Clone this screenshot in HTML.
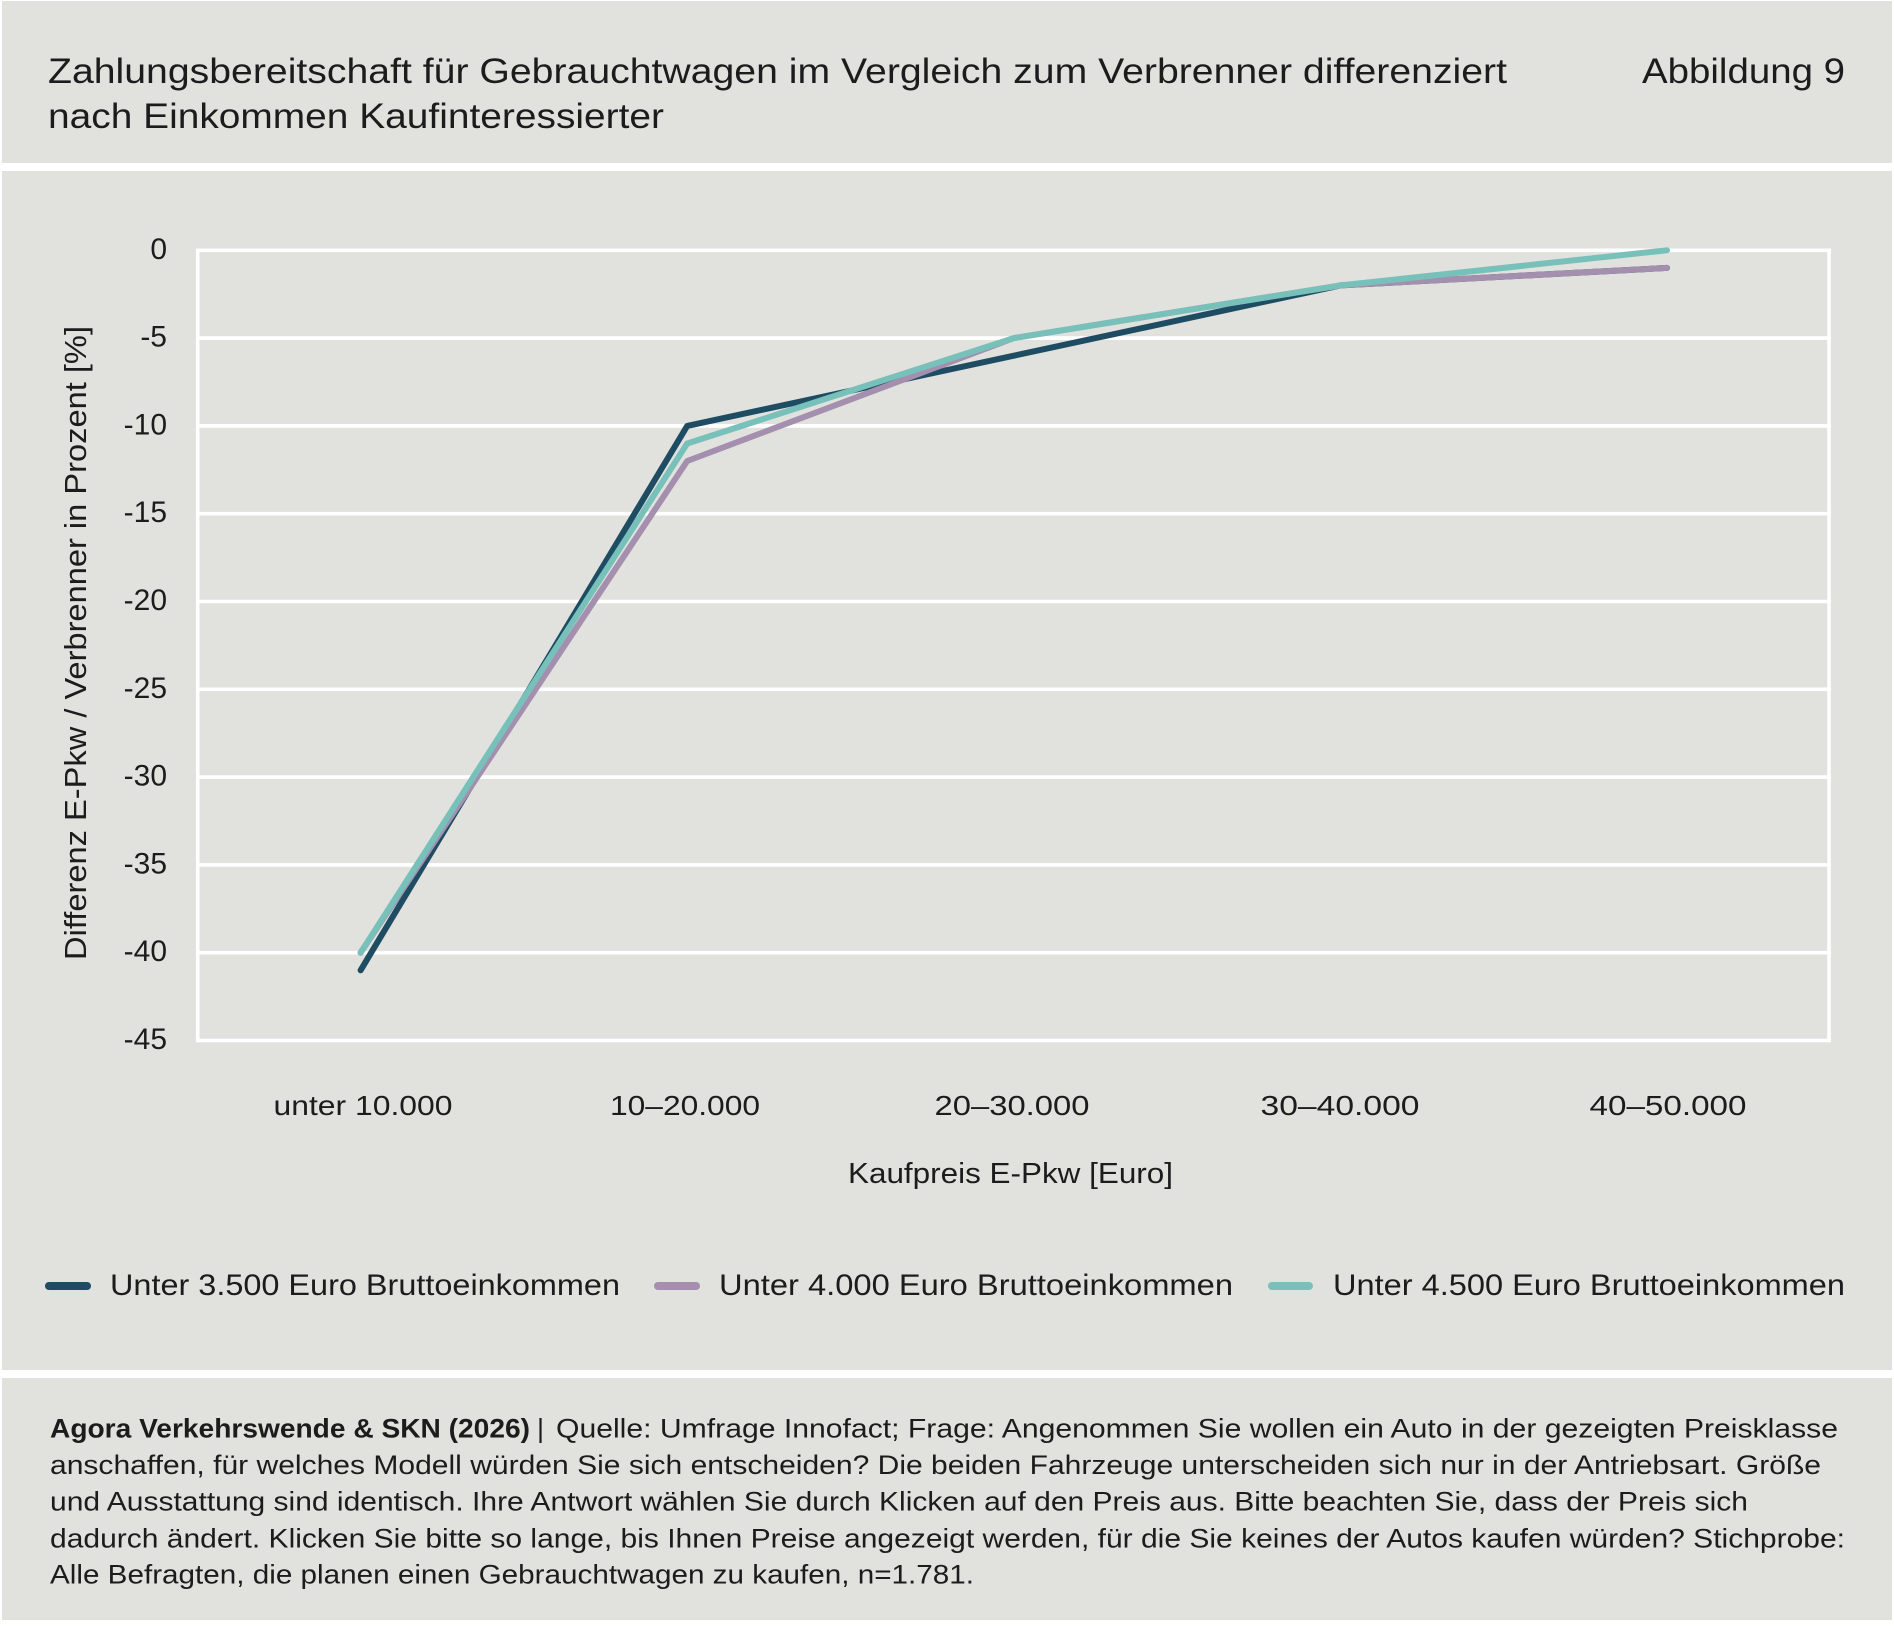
<!DOCTYPE html>
<html><head><meta charset="utf-8"><style>
html,body{margin:0;padding:0;background:#fff;}
svg{display:block;}
text{font-family:"Liberation Sans",sans-serif;fill:#1c1c1c;}
</style></head><body>
<svg width="1894" height="1626" viewBox="0 0 1894 1626" xmlns="http://www.w3.org/2000/svg">
<rect x="0" y="0" width="1894" height="1626" fill="#ffffff"/>
<rect x="2" y="1" width="1890" height="162" fill="#e1e1dd"/>
<rect x="2" y="171" width="1890" height="1199" fill="#e1e1dd"/>
<rect x="2" y="1378" width="1890" height="242" fill="#e1e1dd"/>

<!-- Title -->
<text x="48" y="83" font-size="35" textLength="1459" lengthAdjust="spacingAndGlyphs">Zahlungsbereitschaft für Gebrauchtwagen im Vergleich zum Verbrenner differenziert</text>
<text x="48" y="128" font-size="35" textLength="616" lengthAdjust="spacingAndGlyphs">nach Einkommen Kaufinteressierter</text>
<text x="1642" y="83" font-size="35" textLength="203" lengthAdjust="spacingAndGlyphs">Abbildung 9</text>

<!-- Grid -->
<g stroke="#ffffff" stroke-width="3.6" fill="none">
<line x1="196" y1="250.3" x2="1831" y2="250.3"/>
<line x1="196" y1="338.1" x2="1831" y2="338.1"/>
<line x1="196" y1="425.9" x2="1831" y2="425.9"/>
<line x1="196" y1="513.7" x2="1831" y2="513.7"/>
<line x1="196" y1="601.5" x2="1831" y2="601.5"/>
<line x1="196" y1="689.3" x2="1831" y2="689.3"/>
<line x1="196" y1="777.1" x2="1831" y2="777.1"/>
<line x1="196" y1="864.9" x2="1831" y2="864.9"/>
<line x1="196" y1="952.7" x2="1831" y2="952.7"/>
<line x1="196" y1="1040.5" x2="1831" y2="1040.5"/>
<line x1="197.7" y1="248.5" x2="197.7" y2="1042.3"/>
<line x1="1829" y1="248.5" x2="1829" y2="1042.3"/>
</g>

<!-- Y tick labels -->
<g font-size="30" text-anchor="end">
<text x="167" y="258.8">0</text>
<text x="167" y="346.6">-5</text>
<text x="167" y="434.4">-10</text>
<text x="167" y="522.2">-15</text>
<text x="167" y="610">-20</text>
<text x="167" y="697.8">-25</text>
<text x="167" y="785.6">-30</text>
<text x="167" y="873.4">-35</text>
<text x="167" y="961.2">-40</text>
<text x="167" y="1049">-45</text>
</g>

<!-- Y axis title -->
<text transform="translate(86,643) rotate(-90)" x="0" y="0" font-size="31" text-anchor="middle" textLength="634" lengthAdjust="spacingAndGlyphs">Differenz E-Pkw / Verbrenner in Prozent [%]</text>

<!-- X labels -->
<g font-size="28" text-anchor="middle">
<text x="363" y="1115" textLength="179" lengthAdjust="spacingAndGlyphs">unter 10.000</text>
<text x="685" y="1115" textLength="150" lengthAdjust="spacingAndGlyphs">10–20.000</text>
<text x="1012" y="1115" textLength="155" lengthAdjust="spacingAndGlyphs">20–30.000</text>
<text x="1340" y="1115" textLength="159" lengthAdjust="spacingAndGlyphs">30–40.000</text>
<text x="1668" y="1115" textLength="157" lengthAdjust="spacingAndGlyphs">40–50.000</text>
</g>
<text x="1010.5" y="1183" font-size="29" text-anchor="middle" textLength="325" lengthAdjust="spacingAndGlyphs">Kaufpreis E-Pkw [Euro]</text>

<!-- Series -->
<g fill="none" stroke-width="6" stroke-linecap="round" stroke-linejoin="round">
<polyline stroke="#1d4c63" points="360.6,970.3 687.2,425.9 1013.8,355.7 1340.4,285.4 1667,267.9"/>
<polyline stroke="#a48fae" points="360.6,952.7 687.2,461 1013.8,338.1 1340.4,285.4 1667,267.9"/>
<polyline stroke="#78c1bb" points="360.6,952.7 687.2,443.5 1013.8,338.1 1340.4,285.4 1667,250.3"/>
</g>

<!-- Legend -->
<g stroke-width="8" stroke-linecap="round">
<line x1="49" y1="1286" x2="87" y2="1286" stroke="#1d4c63"/>
<line x1="658" y1="1286" x2="696" y2="1286" stroke="#a48fae"/>
<line x1="1272" y1="1286" x2="1309" y2="1286" stroke="#78c1bb"/>
</g>
<g font-size="30">
<text x="110" y="1295" textLength="510" lengthAdjust="spacingAndGlyphs">Unter 3.500 Euro Bruttoeinkommen</text>
<text x="719" y="1295" textLength="514" lengthAdjust="spacingAndGlyphs">Unter 4.000 Euro Bruttoeinkommen</text>
<text x="1333" y="1295" textLength="512" lengthAdjust="spacingAndGlyphs">Unter 4.500 Euro Bruttoeinkommen</text>
</g>

<!-- Footer -->
<g font-size="27">
<text x="50" y="1437.3" font-weight="bold" textLength="480" lengthAdjust="spacingAndGlyphs">Agora Verkehrswende &amp; SKN (2026)</text>
<text x="537" y="1437.3">|</text>
<text x="556" y="1437.3" textLength="1282" lengthAdjust="spacingAndGlyphs">Quelle: Umfrage Innofact; Frage: Angenommen Sie wollen ein Auto in der gezeigten Preisklasse</text>
<text x="50" y="1474" textLength="1771" lengthAdjust="spacingAndGlyphs">anschaffen, für welches Modell würden Sie sich entscheiden? Die beiden Fahrzeuge unterscheiden sich nur in der Antriebsart. Größe</text>
<text x="50" y="1510.7" textLength="1698" lengthAdjust="spacingAndGlyphs">und Ausstattung sind identisch. Ihre Antwort wählen Sie durch Klicken auf den Preis aus. Bitte beachten Sie, dass der Preis sich</text>
<text x="50" y="1547.3" textLength="1795" lengthAdjust="spacingAndGlyphs">dadurch ändert. Klicken Sie bitte so lange, bis Ihnen Preise angezeigt werden, für die Sie keines der Autos kaufen würden? Stichprobe:</text>
<text x="50" y="1583.3" textLength="924" lengthAdjust="spacingAndGlyphs">Alle Befragten, die planen einen Gebrauchtwagen zu kaufen, n=1.781.</text>
</g>
</svg>
</body></html>
